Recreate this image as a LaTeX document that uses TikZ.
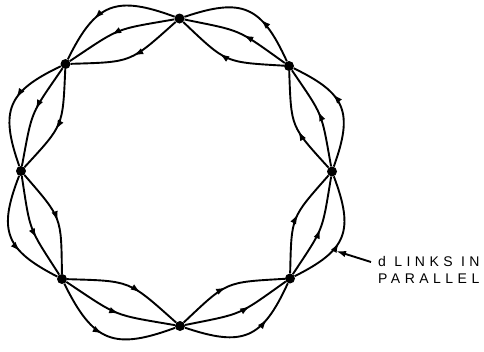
\documentclass[tikz,border=0pt]{standalone}
\usepackage{fontspec}
\newfontfamily\labelfont[LetterSpace=32]{Liberation Sans}
\usetikzlibrary{arrows.meta,decorations.markings}
\tikzset{
  x=1pt, y=-1pt,
  station/.style={circle,fill=black,inner sep=0pt,minimum size=10pt},
  link/.style={line width=1.9pt, postaction={decorate},
    decoration={markings, mark=at position #1 with {\arrow{Latex[length=10pt,width=6.5pt]}}}},
  obend/.style={bend right=42, looseness=1.4},
  mbend/.style={bend right=12, looseness=1.4},
  ibend/.style={bend left=20, looseness=1.4},
  pointer/.style={line width=1.9pt, -{Latex[length=10pt,width=6.5pt]}},
  lbl/.style={font={\labelfont\fontsize{14}{17}\selectfont}, align=left, inner sep=0pt, anchor=north west}
}
\begin{document}
\begin{tikzpicture}
\useasboundingbox (0,0) rectangle (484,351);
\node[station] (n1) at (179.5,18.5) {};
\node[station] (n2) at (65.5,64) {};
\node[station] (n3) at (21,171) {};
\node[station] (n4) at (62,279) {};
\node[station] (n5) at (180,326) {};
\node[station] (n6) at (290,278.5) {};
\node[station] (n7) at (332,171.5) {};
\node[station] (n8) at (289,66) {};
% segment n1 -> n2
\draw[link=0.64] (n1) to[obend] (n2);
\draw[link=0.57] (n1) to[mbend] (n2);
\draw[link=0.46] (n1) to[ibend] (n2);
% n2 -> n3
\draw[link=0.44] (n2) to[obend] (n3);
\draw[link=0.46] (n2) to[mbend] (n3);
\draw[link=0.56] (n2) to[ibend] (n3);
% n3 -> n4
\draw[link=0.64] (n3) to[obend] (n4);
\draw[link=0.60] (n3) to[mbend] (n4);
\draw[link=0.52] (n3) to[ibend] (n4);
% n4 -> n5
\draw[link=0.46] (n4) to[obend] (n5);
\draw[link=0.52] (n4) to[mbend] (n5);
\draw[link=0.62] (n4) to[ibend] (n5);
% n5 -> n6
\draw[link=0.68] (n5) to[obend] (n6);
\draw[link=0.61] (n5) to[mbend] (n6);
\draw[link=0.48] (n5) to[ibend] (n6);
% n6 -> n7
\draw[link=0.45] (n6) to[obend] (n7);
\draw[link=0.50] (n6) to[mbend] (n7);
\draw[link=0.55] (n6) to[ibend] (n7);
% n7 -> n8
\draw[link=0.62] (n7) to[obend] (n8);
\draw[link=0.54] (n7) to[mbend] (n8);
\draw[link=0.44] (n7) to[ibend] (n8);
% n8 -> n1
\draw[link=0.38] (n8) to[obend] (n1);
\draw[link=0.45] (n8) to[mbend] (n1);
\draw[link=0.58] (n8) to[ibend] (n1);
% label
\node[lbl] (note) at (378,256) {d LINKS IN\\PARALLEL};
\coordinate (ptr) at (371,262);
\coordinate (tip) at (336,251);
\draw[pointer] (ptr) -- (tip);
\end{tikzpicture}
\end{document}
